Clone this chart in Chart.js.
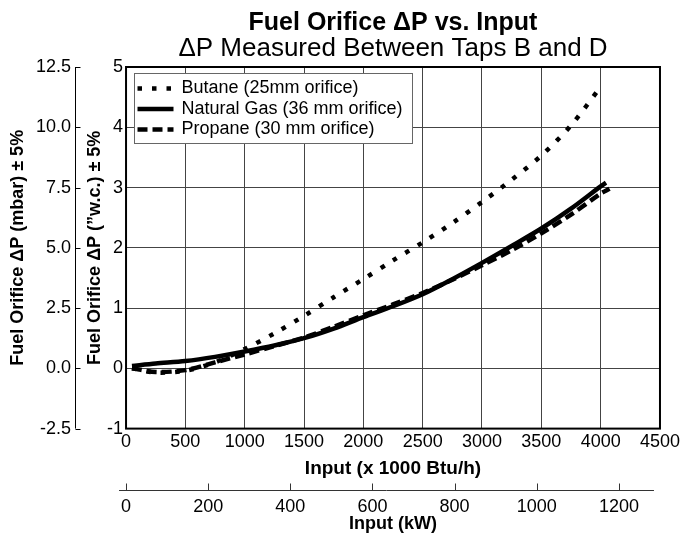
<!DOCTYPE html>
<html>
<head>
<meta charset="utf-8">
<script src="https://cdn.jsdelivr.net/npm/chart.js@4.4.0/dist/chart.umd.min.js"></script>
<style>
  html, body { margin: 0; padding: 0; background: #fff; }
  #wrap { width: 683px; height: 534px; }
</style>
</head>
<body>
<div id="wrap"><canvas id="myChart" width="683" height="534"></canvas></div>
<script>
// Entrada em x 1000 Btu/h, ΔP em "w.c.
const butaneInput = [50, 250, 500, 750, 1000, 1250, 1500, 1750, 2000, 2250, 2500, 2750, 3000, 3250, 3500, 3750, 4000]
const butane = [0.0, -0.07, -0.04, 0.1, 0.32, 0.58, 0.87, 1.18, 1.48, 1.79, 2.09, 2.41, 2.76, 3.13, 3.53, 4.03, 4.67]

const naturalGasInput = [50, 250, 500, 750, 1000, 1250, 1500, 1750, 2000, 2250, 2500, 2750, 3000, 3250, 3500, 3750, 4000, 4045]
const naturalGas = [0.04, 0.08, 0.12, 0.19, 0.28, 0.38, 0.5, 0.66, 0.85, 1.03, 1.23, 1.48, 1.75, 2.03, 2.32, 2.65, 3.02, 3.08]

const propaneInput = [50, 250, 500, 750, 1000, 1250, 1500, 1750, 2000, 2250, 2500, 2750, 3000, 3250, 3500, 3750, 4000, 4075]
const propane = [0.0, -0.06, -0.03, 0.1, 0.23, 0.37, 0.51, 0.69, 0.88, 1.06, 1.25, 1.47, 1.71, 1.96, 2.24, 2.55, 2.9, 2.98]

const seriesLabels = ['Butane (25mm orifice)', 'Natural Gas (36 mm orifice)', 'Propane (30 mm orifice)']

// Ticks dos eixos
const btuTicks = [0, 500, 1000, 1500, 2000, 2500, 3000, 3500, 4000, 4500]
const kwTicks = [0, 200, 400, 600, 800, 1000, 1200]
const wcTicks = [-1, 0, 1, 2, 3, 4, 5]
const mbarTicks = [-2.5, 0, 2.5, 5, 7.5, 10, 12.5]

const FONT = '"Liberation Sans", Arial, Helvetica, sans-serif'

function toPoints(xs, ys) {
  return xs.map((x, i) => ({ x: x, y: ys[i] }))
}

// Moldura, eixos externos (mbar e kW) e legenda em caixa
const extrasPlugin = {
  id: 'extras',
  beforeDatasetsDraw(chart) {
    const ctx = chart.ctx
    const a = chart.chartArea
    ctx.save()

    // eixo mbar: linha com ticks para dentro
    const y2 = chart.scales.y2
    const lx = Math.round(y2.right - 5) + 0.5
    ctx.strokeStyle = '#000'
    ctx.lineWidth = 1
    ctx.beginPath()
    ctx.moveTo(lx, y2.getPixelForValue(mbarTicks[mbarTicks.length - 1]))
    ctx.lineTo(lx, y2.getPixelForValue(mbarTicks[0]))
    mbarTicks.forEach(v => {
      const py = Math.round(y2.getPixelForValue(v)) + 0.5
      ctx.moveTo(lx, py)
      ctx.lineTo(lx + 5, py)
    })
    ctx.stroke()

    // eixo kW: linha acima dos rótulos, ticks para cima
    const x2 = chart.scales.x2
    const ly = Math.round(x2.top - 8) + 0.5
    ctx.strokeStyle = '#333'
    ctx.beginPath()
    ctx.moveTo(x2.left - 7, ly)
    ctx.lineTo(x2.right - 6, ly)
    kwTicks.forEach(v => {
      const px = Math.round(x2.getPixelForValue(v)) + 0.5
      ctx.moveTo(px, ly)
      ctx.lineTo(px, ly - 7)
    })
    ctx.stroke()

    // moldura da área do gráfico
    ctx.strokeStyle = '#000'
    ctx.lineWidth = 2
    ctx.strokeRect(a.left, a.top, a.right - a.left, a.bottom - a.top)
    ctx.restore()
  },
  afterDatasetsDraw(chart) {
    const ctx = chart.ctx
    const a = chart.chartArea
    const datasets = chart.data.datasets
    ctx.save()
    ctx.font = '18px ' + FONT
    const textW = Math.max(...datasets.map(d => ctx.measureText(d.label).width))
    const bx = Math.round(a.left + 8) + 0.5
    const by = Math.round(a.top + 6) + 0.5
    const bw = Math.round(47 + textW + 10)
    const bh = 70
    ctx.fillStyle = '#fff'
    ctx.fillRect(bx, by, bw, bh)
    ctx.strokeStyle = '#666'
    ctx.lineWidth = 1
    ctx.strokeRect(bx, by, bw, bh)

    const rows = [15, 35.5, 56]
    datasets.forEach((d, i) => {
      const ry = by + rows[i]
      ctx.strokeStyle = d.borderColor
      ctx.lineWidth = d.borderWidth
      ctx.setLineDash(d.borderDash || [])
      ctx.lineCap = 'butt'
      ctx.beginPath()
      ctx.moveTo(bx + 3, ry)
      ctx.lineTo(bx + 39, ry)
      ctx.stroke()
      ctx.setLineDash([])
      ctx.fillStyle = '#000'
      ctx.textBaseline = 'middle'
      ctx.textAlign = 'left'
      ctx.fillText(d.label, bx + 47, ry)
    })
    ctx.restore()
  }
}

const ctx = document.getElementById('myChart').getContext('2d')

new Chart(ctx, {
  type: 'line',
  data: {
    datasets: [
      {
        label: seriesLabels[0],
        data: toPoints(butaneInput, butane),
        borderColor: '#000',
        borderWidth: 4.5,
        borderDash: [4.5, 10],
        pointRadius: 0,
        tension: 0.3,
        fill: false
      },
      {
        label: seriesLabels[1],
        data: toPoints(naturalGasInput, naturalGas),
        borderColor: '#000',
        borderWidth: 4.5,
        pointRadius: 0,
        tension: 0.3,
        fill: false
      },
      {
        label: seriesLabels[2],
        data: toPoints(propaneInput, propane),
        borderColor: '#000',
        borderWidth: 4.5,
        borderDash: [10, 5],
        pointRadius: 0,
        tension: 0.3,
        fill: false
      }
    ]
  },
  options: {
    responsive: false,
    animation: false,
    devicePixelRatio: 1,
    layout: {
      padding: { left: 4, right: 2, top: 0, bottom: 1 }
    },
    plugins: {
      legend: { display: false },
      tooltip: { enabled: false },
      title: {
        display: true,
        text: 'Fuel Orifice \u0394P vs. Input',
        color: '#000',
        fullSize: false,
        font: { family: FONT, size: 25, weight: 'bold', lineHeight: 1 },
        padding: { top: 11, bottom: 0 }
      },
      subtitle: {
        display: true,
        text: '\u0394P Measured Between Taps B and D',
        color: '#000',
        fullSize: false,
        font: { family: FONT, size: 26, weight: 'normal', lineHeight: 1 },
        padding: { top: 0, bottom: 5 }
      }
    },
    scales: {
      x: {
        type: 'linear',
        position: 'bottom',
        weight: 0,
        min: btuTicks[0],
        max: btuTicks[btuTicks.length - 1],
        afterBuildTicks: s => { s.ticks = btuTicks.map(v => ({ value: v })) },
        ticks: {
          color: '#000',
          padding: 3,
          maxRotation: 0,
          autoSkip: false,
          font: { family: FONT, size: 18 },
          callback: v => String(v)
        },
        grid: { color: '#444', lineWidth: 1, drawTicks: false },
        border: { display: false },
        title: {
          display: true,
          text: 'Input (x 1000 Btu/h)',
          color: '#000',
          font: { family: FONT, size: 19, weight: 'bold' },
          padding: { top: 1, bottom: 18 }
        }
      },
      x2: {
        type: 'linear',
        position: 'bottom',
        weight: 1,
        min: 0,
        max: 1300,
        afterBuildTicks: s => { s.ticks = kwTicks.map(v => ({ value: v })) },
        ticks: {
          color: '#000',
          padding: 0,
          maxRotation: 0,
          autoSkip: false,
          font: { family: FONT, size: 18, lineHeight: 1 },
          callback: v => String(v)
        },
        grid: { display: false, drawTicks: false },
        border: { display: false },
        title: {
          display: true,
          text: 'Input (kW)',
          color: '#000',
          font: { family: FONT, size: 18, weight: 'bold', lineHeight: 1 },
          padding: { top: -1, bottom: 0 }
        }
      },
      y: {
        type: 'linear',
        position: 'left',
        weight: 0,
        min: wcTicks[0],
        max: wcTicks[wcTicks.length - 1],
        afterBuildTicks: s => { s.ticks = wcTicks.map(v => ({ value: v })) },
        ticks: {
          color: '#000',
          padding: 3,
          font: { family: FONT, size: 18 },
          callback: v => String(v)
        },
        grid: { color: '#444', lineWidth: 1, drawTicks: false },
        border: { display: false },
        title: {
          display: true,
          text: 'Fuel Orifice \u0394P (\u201dw.c.) \u00b1 5%',
          color: '#000',
          font: { family: FONT, size: 18, weight: 'bold', lineHeight: 1 },
          padding: { top: 6, bottom: 0 }
        }
      },
      y2: {
        type: 'linear',
        position: 'left',
        weight: 1,
        min: mbarTicks[0],
        max: mbarTicks[mbarTicks.length - 1],
        afterBuildTicks: s => { s.ticks = mbarTicks.map(v => ({ value: v })) },
        ticks: {
          color: '#000',
          padding: 9,
          font: { family: FONT, size: 18 },
          callback: v => v.toFixed(1)
        },
        grid: { display: false, drawTicks: false },
        border: { display: false },
        title: {
          display: true,
          text: 'Fuel Orifice \u0394P (mbar) \u00b1 5%',
          color: '#000',
          font: { family: FONT, size: 18, weight: 'bold', lineHeight: 1 },
          padding: { top: 5, bottom: 0 }
        }
      }
    }
  },
  plugins: [extrasPlugin]
})
</script>
</body>
</html>
